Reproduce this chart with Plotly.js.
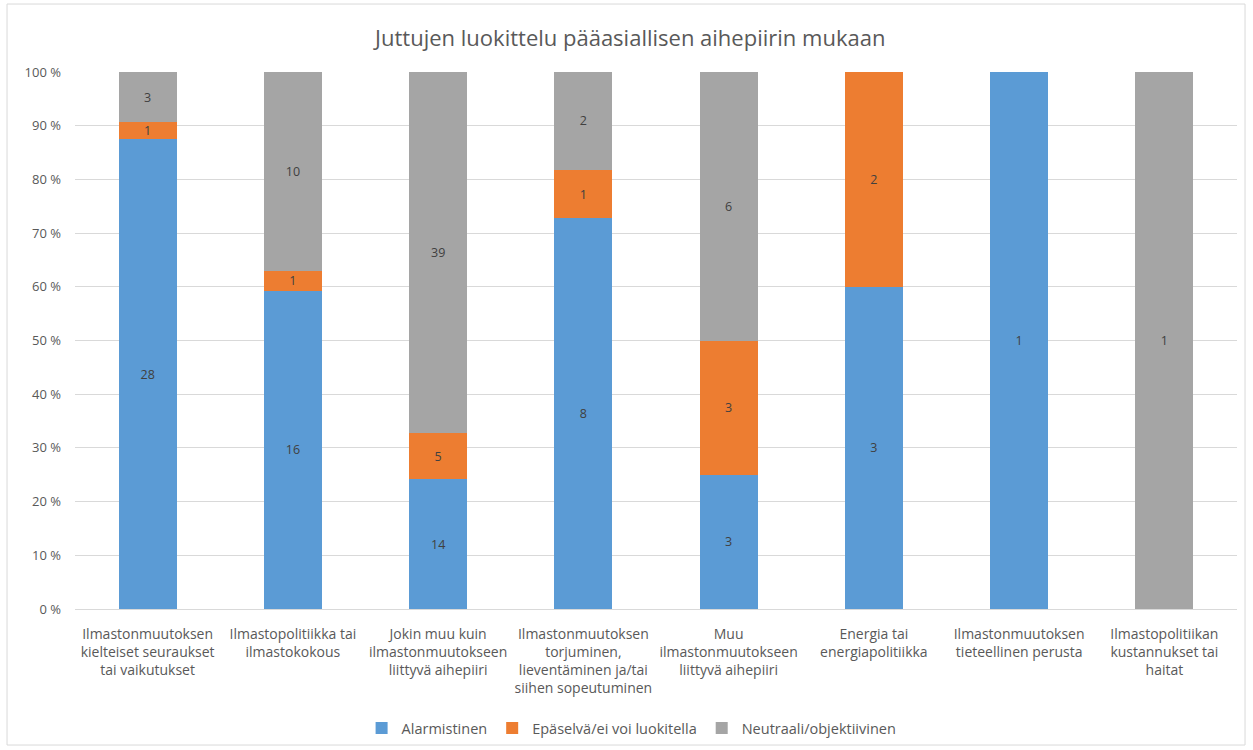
<!DOCTYPE html>
<html>
<head>
<meta charset="utf-8">
<script src="https://cdn.plot.ly/plotly-3.0.1.min.js"></script>
<style>html,body{margin:0;padding:0;background:#fff;}#chart{width:1253px;height:750px;}</style>
</head>
<body>
<div id="chart"></div>
<script>
const categories = [
  "Ilmastonmuutoksen<br>kielteiset seuraukset<br>tai vaikutukset",
  "Ilmastopolitiikka tai<br>ilmastokokous",
  "Jokin muu kuin<br>ilmastonmuutokseen<br>liittyvä aihepiiri",
  "Ilmastonmuutoksen<br>torjuminen,<br>lieventäminen ja/tai<br>siihen sopeutuminen",
  "Muu<br>ilmastonmuutokseen<br>liittyvä aihepiiri",
  "Energia tai<br>energiapolitiikka",
  "Ilmastonmuutoksen<br>tieteellinen perusta",
  "Ilmastopolitiikan<br>kustannukset tai<br>haitat"
];
const alarmistinen = [28, 16, 14, 8, 3, 3, 1, 0];
const epaselva = [1, 1, 5, 1, 3, 2, 0, 0];
const neutraali = [3, 10, 39, 2, 6, 0, 0, 1];
const seriesNames = ["Alarmistinen", "Epäselvä/ei voi luokitella", "Neutraali/objektiivinen"];
const colors = ["#5B9BD5", "#ED7D31", "#A5A5A5"];
const yTickVals = [0, 10, 20, 30, 40, 50, 60, 70, 80, 90, 100];

const font = "'Open Sans', 'DejaVu Sans', sans-serif";
const seriesData = [alarmistinen, epaselva, neutraali];
const traces = seriesData.map((vals, i) => ({
  type: 'bar',
  name: seriesNames[i],
  x: categories,
  y: vals,
  text: vals.map(v => v ? String(v) : ''),
  textposition: 'inside',
  insidetextanchor: 'middle',
  textangle: 0,
  textfont: {family: font, size: 12.5, color: '#404040'},
  marker: {color: colors[i]},
  hoverinfo: 'name+y'
}));

const layout = {
  width: 1253, height: 750,
  margin: {l: 75, r: 16, t: 72, b: 141, autoexpand: false},
  paper_bgcolor: '#fff', plot_bgcolor: '#fff',
  barmode: 'stack', barnorm: 'percent', bargap: 0.6,
  uniformtext: {minsize: 12, mode: 'show'},
  font: {family: font, color: '#595959', size: 12},
  title: {text: 'Juttujen luokittelu pääasiallisen aihepiirin mukaan', font: {family: font, size: 22, color: '#595959'},
          x: 0.503, xref: 'container', xanchor: 'center', y: 0.949, yref: 'container', yanchor: 'middle'},
  xaxis: {automargin: false, showline: true, linecolor: '#D9D9D9', linewidth: 1, ticks: '', ticklabelstandoff: 12,
          tickfont: {size: 14, color: '#595959'}, fixedrange: true},
  yaxis: {automargin: false, range: [0, 100], tickvals: yTickVals, ticktext: yTickVals.map(v => v + ' %'), gridcolor: '#D9D9D9', zeroline: false,
          showline: false, ticks: '', ticklabelstandoff: 13, tickfont: {size: 13, color: '#595959'}, fixedrange: true},
  legend: {orientation: 'h', x: 0.479, xanchor: 'center', yref: 'container', y: 0.0293, yanchor: 'middle', font: {size: 14.5, color: '#595959'},
           traceorder: 'normal', itemwidth: 30},
  showlegend: true,
  shapes: [{type: 'rect', xref: 'paper', yref: 'paper', x0: -0.0585, x1: 1.0069, y0: -0.2533, y1: 1.1266,
            line: {color: '#D9D9D9', width: 1}, fillcolor: 'rgba(0,0,0,0)', layer: 'below'}]
};

Plotly.newPlot('chart', traces, layout, {displayModeBar: false, staticPlot: true});
</script>
</body>
</html>
